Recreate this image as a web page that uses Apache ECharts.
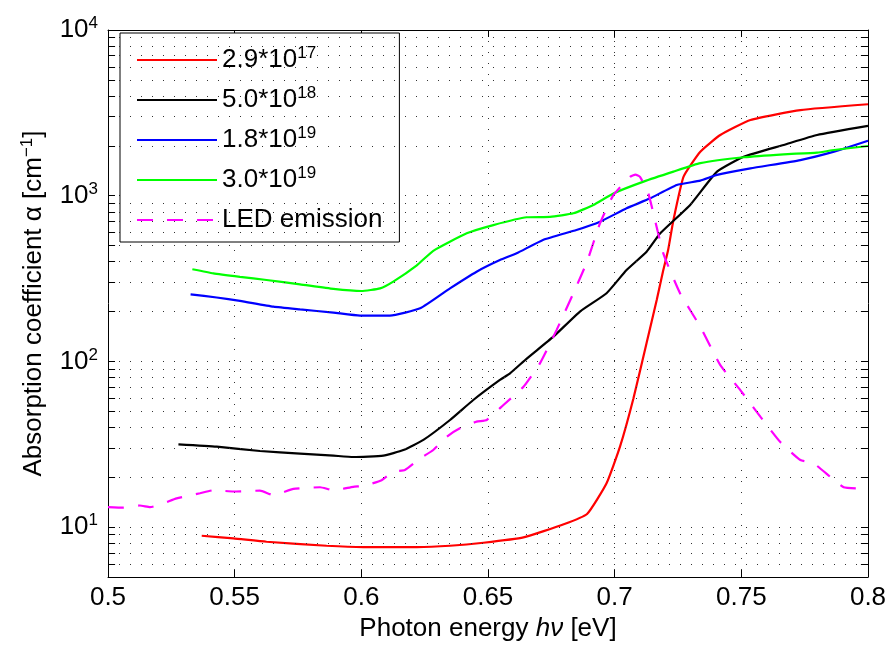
<!DOCTYPE html>
<html>
<head>
<meta charset="utf-8">
<script src="https://cdn.jsdelivr.net/npm/echarts@6/dist/echarts.min.js"></script>
<style>
  html, body { margin: 0; padding: 0; background: #fff; }
</style>
</head>
<body>
<div id="chart" style="width: 890px;height: 649px;"></div>

<script type="text/javascript">
    // photon energy [eV] and absorption coefficient [cm^-1]
    var redE = [0.537, 0.5495, 0.5626, 0.5863, 0.6008, 0.6219, 0.635, 0.6482, 0.664, 0.6799, 0.6891, 0.6968, 0.7021, 0.7074, 0.7126, 0.7166, 0.7192, 0.7211, 0.7232, 0.7272, 0.7338, 0.7417, 0.7536, 0.7733, 0.8];
    var redA = [8.87, 8.55, 8.16, 7.72, 7.58, 7.58, 7.72, 8.05, 8.67, 10.4, 12.0, 18.4, 30.6, 59.8, 129, 235, 356, 470, 713, 1303, 1844, 2324, 2864, 3288, 3565];

    var blackE = [0.5278, 0.5429, 0.56, 0.5758, 0.589, 0.5968, 0.6087, 0.6166, 0.6245, 0.635, 0.6442, 0.6547, 0.6587, 0.6653, 0.6758, 0.6863, 0.6968, 0.7047, 0.7126, 0.718, 0.7298, 0.7404, 0.7509, 0.7667, 0.7799, 0.8];
    var blackA = [31.6, 30.6, 28.8, 27.8, 27.0, 26.5, 27.0, 29.2, 33.6, 44.3, 58.5, 77.3, 84.7, 104, 141, 200, 258, 356, 459, 593, 879, 1397, 1718, 2024, 2324, 2638];

    var blueE = [0.5326, 0.5429, 0.5521, 0.5653, 0.5758, 0.589, 0.5995, 0.6113, 0.6232, 0.635, 0.6455, 0.6547, 0.6613, 0.6717, 0.6849, 0.6942, 0.7047, 0.714, 0.7245, 0.7338, 0.7404, 0.7536, 0.7733, 0.7866, 0.8];
    var blueA = [254, 243, 232, 214, 206, 197, 189, 189, 209, 276, 348, 409, 449, 541, 621, 697, 839, 964, 1161, 1233, 1335, 1463, 1641, 1844, 2148];

    var greenE = [0.5333, 0.5416, 0.5521, 0.5626, 0.5758, 0.589, 0.6, 0.6074, 0.6126, 0.6219, 0.6284, 0.6416, 0.6521, 0.6653, 0.6745, 0.6837, 0.6916, 0.6995, 0.7114, 0.7232, 0.7338, 0.7509, 0.7667, 0.7799, 0.7866, 0.8];
    var greenA = [360, 340, 324, 310, 292, 274, 266, 276, 303, 380, 465, 593, 665, 741, 745, 783, 879, 1032, 1216, 1397, 1571, 1706, 1778, 1820, 1888, 1995];

    var ledE = [0.5, 0.5061, 0.5126, 0.5166, 0.5271, 0.5363, 0.5416, 0.5495, 0.56, 0.5653, 0.5732, 0.5837, 0.589, 0.5968, 0.6014, 0.608, 0.6126, 0.6172, 0.6232, 0.6284, 0.6337, 0.6389, 0.6455, 0.6495, 0.6561, 0.664, 0.6705, 0.6771, 0.6837, 0.6891, 0.6942, 0.6995, 0.7061, 0.7082, 0.71, 0.7133, 0.7192, 0.7258, 0.7338, 0.7417, 0.7496, 0.7575, 0.7653, 0.7733, 0.7785, 0.7851, 0.7904, 0.7957];
    var ledA = [13.2, 13.1, 13.5, 13.2, 14.9, 16.0, 16.7, 16.4, 16.6, 15.6, 17.0, 17.4, 16.7, 17.5, 17.8, 19.2, 21.6, 22.1, 26.0, 29.2, 35.1, 39.5, 43.3, 44.3, 54.6, 70.3, 97.3, 155, 258, 400, 681, 1009, 1300, 1340, 1300, 1032, 449, 258, 162, 95, 67.1, 46.4, 32.7, 25.4, 24.3, 20.1, 17.4, 17.1];

    var seriesNames = ['2.9*10^17', '5.0*10^18', '1.8*10^19', '3.0*10^19', 'LED emission'];
    var seriesColors = ['#ff0000', '#000000', '#0000ff', '#00ff00', '#ff00ff'];

    // minor log grid lines (2..9 of each decade)
    var minorGrid = [6, 7, 8, 9, 20, 30, 40, 50, 60, 70, 80, 90, 200, 300, 400, 500, 600, 700, 800, 900, 2000, 3000, 4000, 5000, 6000, 7000, 8000, 9000];

    function zip(xs, ys){
        var out = [];
        for (var i = 0; i < xs.length; i++) {
            out.push([xs[i], ys[i]]);
        }
        return out;
    }

    var FONT = '"Liberation Sans", Arial, sans-serif';
    var dotted = {color: '#333', width: 1, type: [1, 10]};
    var XMIN = 0.5, XMAX = 0.8, TICKLEN = 0.0028;

    var chart = echarts.init(document.getElementById("chart"));
    var allE = [redE, blackE, blueE, greenE, ledE];
    var allA = [redA, blackA, blueA, greenA, ledA];
    var series = [];
    for (var k = 0; k < 5; k++) {
        series.push({
            name: seriesNames[k],
            type: 'line',
            data: zip(allE[k], allA[k]),
            symbol: 'none',
            smooth: 0.15,
            color: seriesColors[k],
            lineStyle: {
                color: seriesColors[k],
                width: 2.2,
                type: k === 4 ? [16, 14] : 'solid'
            },
            z: 3
        });
    }

    // dotted minor grid, plus the small inward minor ticks on left and right edges
    var gridLines = minorGrid.map(function(v){ return {yAxis: v}; });
    var minorTicks = [];
    minorGrid.forEach(function(v){
        minorTicks.push([{coord: [XMIN, v]}, {coord: [XMIN + TICKLEN, v]}]);
        minorTicks.push([{coord: [XMAX - TICKLEN, v]}, {coord: [XMAX, v]}]);
    });
    series[0].markLine = {
        silent: true,
        symbol: 'none',
        label: {show: false},
        lineStyle: dotted,
        data: gridLines
    };
    series[1].markLine = {
        silent: true,
        symbol: 'none',
        label: {show: false},
        lineStyle: {color: '#000', width: 1, type: 'solid'},
        data: minorTicks
    };

    function powLabel(v){
        var e = Math.log10(v);
        if (Math.abs(e - Math.round(e)) > 1e-6) return '';
        return '{b|10}{s|' + Math.round(e) + '}';
    }

    var option = {
        animation: false,
        backgroundColor: '#fff',
        textStyle: {fontFamily: FONT},
        grid: {
            left: 108,
            right: 22,
            top: 30,
            bottom: 72
        },
        legend: {
            data: seriesNames,
            orient: 'vertical',
            left: 120,
            top: 33,
            padding: [12, 17, 7, 16],
            itemGap: 10,
            itemWidth: 80,
            itemHeight: 14,
            backgroundColor: '#fff',
            borderColor: '#000',
            borderWidth: 1,
            borderRadius: 0,
            itemStyle: {opacity: 0},
            formatter: function(name){
                return name.replace(/\^(\d+)/, '{s|$1}');
            },
            textStyle: {
                fontFamily: FONT,
                fontSize: 26,
                color: '#000',
                lineHeight: 30,
                rich: {
                    s: {fontSize: 17, lineHeight: 17, verticalAlign: 'top', fontFamily: FONT, color: '#000'}
                }
            }
        },
        xAxis: [
            {
                type: 'value',
                min: XMIN,
                max: XMAX,
                interval: 0.05,
                position: 'bottom',
                name: 'Photon energy {i|hν} [eV]',
                nameLocation: 'middle',
                nameGap: 37,
                nameTextStyle: {
                    fontFamily: FONT,
                    fontSize: 26,
                    color: '#000',
                    rich: {
                        i: {fontFamily: FONT, fontSize: 26, fontStyle: 'italic', color: '#000'}
                    }
                },
                axisLine: {lineStyle: {color: '#000', width: 1}},
                axisTick: {inside: true, length: 7, lineStyle: {color: '#000'}},
                axisLabel: {
                    color: '#000',
                    fontSize: 26,
                    margin: 8,
                    fontFamily: FONT,
                    formatter: function(v){ return String(+v.toFixed(2)); }
                },
                splitLine: {show: true, lineStyle: dotted}
            },
            {
                type: 'value',
                min: XMIN,
                max: XMAX,
                interval: 0.05,
                position: 'top',
                axisLine: {lineStyle: {color: '#000', width: 1}},
                axisTick: {inside: true, length: 7, lineStyle: {color: '#000'}},
                axisLabel: {show: false},
                splitLine: {show: false}
            }
        ],
        yAxis: [
            {
                type: 'log',
                logBase: 10,
                min: 5,
                max: 10000,
                position: 'left',
                name: 'Absorption coefficient α [cm{s|−1}]',
                nameLocation: 'middle',
                nameGap: 51,
                nameTextStyle: {
                    fontFamily: FONT,
                    fontSize: 26,
                    color: '#000',
                    lineHeight: 30,
                    rich: {
                        s: {fontFamily: FONT, fontSize: 17, lineHeight: 17, verticalAlign: 'top', color: '#000'}
                    }
                },
                axisLine: {lineStyle: {color: '#000', width: 1}},
                axisTick: {inside: true, length: 7, lineStyle: {color: '#000'}},
                axisLabel: {
                    color: '#000',
                    margin: 10,
                    formatter: powLabel,
                    rich: {
                        b: {fontFamily: FONT, fontSize: 26, color: '#000', lineHeight: 30},
                        s: {fontFamily: FONT, fontSize: 17, lineHeight: 17, color: '#000', verticalAlign: 'top'}
                    }
                },
                splitLine: {show: true, lineStyle: dotted}
            },
            {
                type: 'log',
                logBase: 10,
                min: 5,
                max: 10000,
                position: 'right',
                axisLine: {lineStyle: {color: '#000', width: 1}},
                axisTick: {inside: true, length: 7, lineStyle: {color: '#000'}},
                axisLabel: {show: false},
                splitLine: {show: false}
            }
        ],
        series: series
    };
    chart.setOption(option);
</script>
</body>
</html>
